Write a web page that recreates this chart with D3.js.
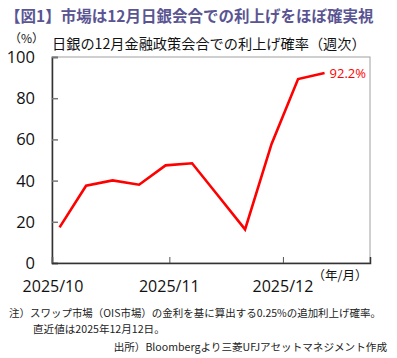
<!DOCTYPE html>
<html><head><meta charset="utf-8">
<script src="https://cdn.jsdelivr.net/npm/d3@7"></script>
<style>body{margin:0;background:#fff}svg{display:block}</style>
</head><body>
<script>
const dates = ["2025-10-03","2025-10-10","2025-10-17","2025-10-24","2025-10-31","2025-11-07","2025-11-14","2025-11-21","2025-11-28","2025-12-05","2025-12-12"];
const values = [17.3, 37.5, 40.1, 38.0, 47.4, 48.4, 32.4, 16.3, 57.8, 89.3, 92.2];
const yTicks = [0, 20, 40, 60, 80, 100];
const xTickDates = ["2025-10-01","2025-11-01","2025-12-01"];
const xTickLabels = ["2025/10","2025/11","2025/12"];
const title = "【図1】市場は12月日銀会合での利上げをほぼ確実視";
const subtitle = "日銀の12月金融政策会合での利上げ確率（週次）";
const lastLabel = "92.2%";

const W = 397, H = 358;
const svg = d3.select("body").append("svg").attr("width", W).attr("height", H);
const jp = "'Noto Sans CJK JP', sans-serif";
const parse = d3.utcParse("%Y-%m-%d");
const L = 52, R = 370, T = 57, B = 263;

const x = d3.scaleUtc().domain([parse("2025-10-01"), parse("2025-12-24")]).range([L, R]);
const y = d3.scaleLinear().domain([0, 100]).range([B, T]);

svg.append("text").attr("x", 5).attr("y", 22).attr("font-family", jp).attr("font-weight", "bold")
  .attr("font-size", 15.5).attr("fill", "#5a5592").text(title);
svg.append("text").attr("x", 52).attr("y", 49).attr("font-family", jp)
  .attr("font-size", 14.2).attr("fill", "#111").text(subtitle);
svg.append("text").attr("x", 44).attr("y", 43).attr("text-anchor", "end").attr("font-family", jp)
  .attr("font-size", 12).attr("fill", "#111").text("（%）");

// frame
svg.append("rect").attr("x", L).attr("y", T).attr("width", R - L).attr("height", B - T)
  .attr("fill", "none").attr("stroke", "#a0a0a0").attr("stroke-width", 1);

const yAxis = svg.append("g").attr("transform", `translate(${L},0)`)
  .call(d3.axisRight(y).tickValues(yTicks).tickSize(6).tickFormat(""));
yAxis.select(".domain").attr("stroke", "#333").attr("stroke-width", 1.5);
yAxis.selectAll(".tick line").attr("stroke", "#777").attr("stroke-width", 1.5);
svg.append("g").selectAll("text").data(yTicks).join("text")
  .attr("x", 35).attr("y", d => y(d) + 6).attr("text-anchor", "end")
  .attr("font-family", "'Open Sans', sans-serif").attr("font-size", 16.5).attr("fill", "#111").text(d => d);

const xAxis = svg.append("g").attr("transform", `translate(0,${B})`)
  .call(d3.axisTop(x).tickValues(xTickDates.map(parse)).tickSize(6).tickFormat(""));
xAxis.select(".domain").attr("stroke", "#333").attr("stroke-width", 1.5);
xAxis.selectAll(".tick line").attr("stroke", "#555").attr("stroke-width", 1);
svg.append("g").selectAll("text").data(xTickDates).join("text")
  .attr("x", (d, i) => i === 0 ? L + 1 : x(parse(d))).attr("y", 292).attr("text-anchor", "middle")
  .attr("font-family", "'Open Sans', sans-serif").attr("font-size", 16).attr("fill", "#111")
  .text((d, i) => xTickLabels[i]);
svg.append("text").attr("x", 340).attr("y", 280).attr("text-anchor", "middle").attr("font-family", jp)
  .attr("font-size", 12.5).attr("fill", "#111").text("（年/月）");

const pts = dates.map((d, i) => [x(parse(d)), y(values[i])]);
svg.append("path").attr("d", d3.line()(pts)).attr("fill", "none")
  .attr("stroke", "#ff0000").attr("stroke-width", 2.6).attr("stroke-linejoin", "miter");
const last = pts[pts.length - 1];
svg.append("text").attr("x", last[0] + 5).attr("y", last[1] + 5)
  .attr("font-family", "'Open Sans', sans-serif").attr("font-size", 13).attr("fill", "#ff0000").text(lastLabel);

svg.append("text").attr("x", 9).attr("y", 317).attr("font-family", jp).attr("font-size", 10.6)
  .attr("fill", "#222").attr("textLength", 372).attr("lengthAdjust", "spacingAndGlyphs")
  .text("注）スワップ市場（OIS市場）の金利を基に算出する0.25%の追加利上げ確率。");
svg.append("text").attr("x", 33).attr("y", 333).attr("font-family", jp).attr("font-size", 10.6)
  .attr("fill", "#222").text("直近値は2025年12月12日。");
svg.append("text").attr("x", 387).attr("y", 351).attr("text-anchor", "end").attr("font-family", jp).attr("font-size", 10.6)
  .attr("fill", "#222").text("出所）Bloombergより三菱UFJアセットマネジメント作成");
</script>
</body></html>
